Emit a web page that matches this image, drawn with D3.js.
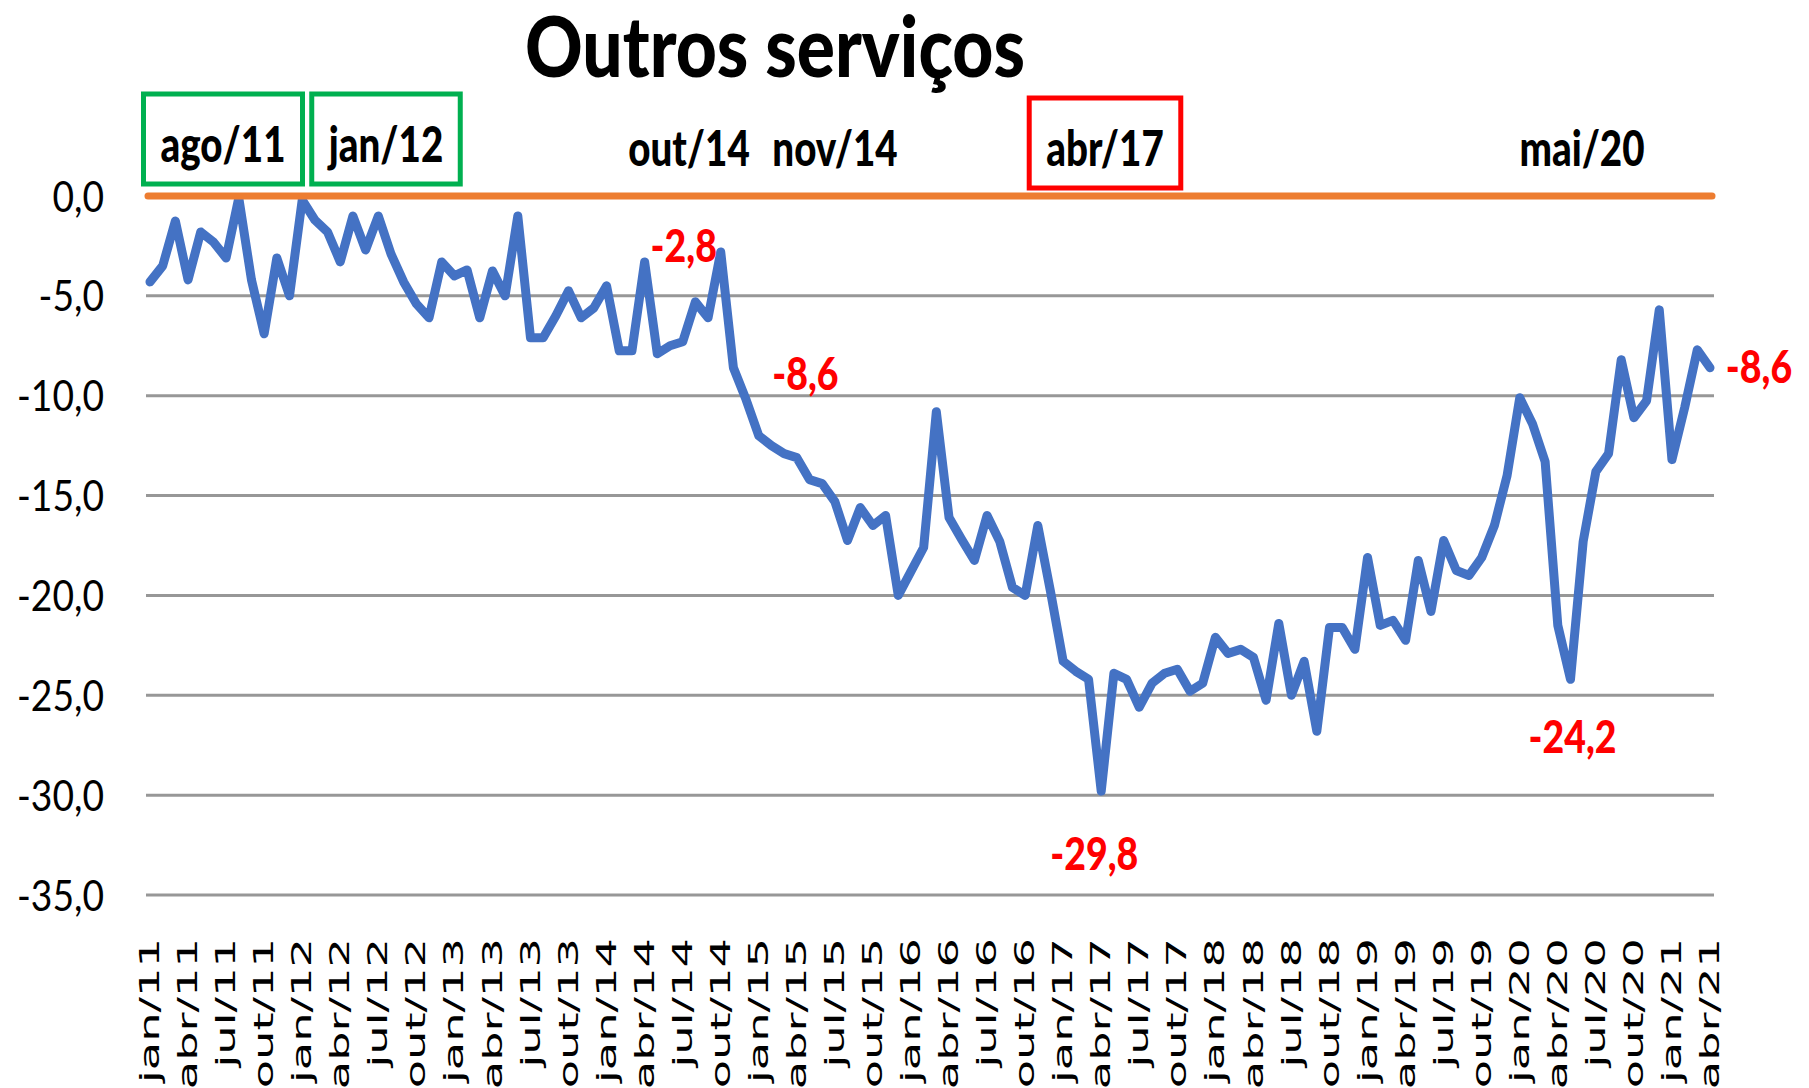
<!DOCTYPE html>
<html>
<head>
<meta charset="utf-8">
<script src="https://cdn.jsdelivr.net/npm/d3@7"></script>
<style>
  body { margin: 0; background: #fff; }
  svg { display: block; }
</style>
</head>
<body>
<div id="chart"></div>
<script>
// categories: one point per month, jan/11 .. abr/21
var monthNames = ['jan', 'fev', 'mar', 'abr', 'mai', 'jun', 'jul', 'ago', 'set', 'out', 'nov', 'dez'];
var years = [11, 12, 13, 14, 15, 16, 17, 18, 19, 20, 21];
var months = [];
years.forEach(function(yr) {
  monthNames.forEach(function(m) { months.push(m + '/' + yr); });
});
months = months.slice(0, months.indexOf('abr/21') + 1);

// series values
var values = [
  -4.3, -3.5, -1.25, -4.2, -1.8, -2.3, -3.1, -0.1, -4.2, -6.9, -3.1, -5.0,      // 2011
  -0.2, -1.2, -1.8, -3.3, -1.0, -2.7, -1.0, -2.9, -4.3, -5.4, -6.1, -3.3,       // 2012
  -4.0, -3.7, -6.1, -3.75, -5.0, -1.0, -7.1, -7.1, -6.0, -4.75, -6.1, -5.6,     // 2013
  -4.5, -7.75, -7.75, -3.3, -7.9, -7.5, -7.3, -5.3, -6.1, -2.8, -8.6, -10.2,    // 2014
  -12.0, -12.5, -12.9, -13.1, -14.2, -14.4, -15.3, -17.25, -15.6, -16.5, -16.0, -20.0, // 2015
  -18.8, -17.6, -10.8, -16.1, -17.2, -18.25, -16.0, -17.3, -19.6, -20.0, -16.5, -19.8, // 2016
  -23.3, -23.8, -24.2, -29.8, -23.9, -24.2, -25.6, -24.4, -23.9, -23.7, -24.8, -24.4,  // 2017
  -22.1, -22.9, -22.7, -23.1, -25.25, -21.4, -25.0, -23.3, -26.8, -21.6, -21.6, -22.7, // 2018
  -18.1, -21.5, -21.25, -22.25, -18.25, -20.8, -17.25, -18.75, -19.0, -18.1, -16.5, -14.0, // 2019
  -10.1, -11.4, -13.3, -21.5, -24.2, -17.3, -13.8, -12.9, -8.2, -11.1, -10.25, -5.7,   // 2020
  -13.2, -10.6, -7.7, -8.6                                                             // 2021
];

var yTicks = [0, -5, -10, -15, -20, -25, -30, -35];
var tickMonths = months.filter(function(m, i) { return i % 3 === 0; });

var topLabels = ['ago/11', 'jan/12', 'out/14', 'nov/14', 'abr/17', 'mai/20'];
var topBoxColors = ['#00B050', '#00B050', null, null, '#FF0000', null];
var calloutMonths = ['out/14', 'nov/14', 'abr/17', 'mai/20', 'abr/21'];

// ---- layout ----
var W = 1809, H = 1088;
var x0 = 150, x1 = 1710, yTop = 196, yBot = 895;
var topLabelPos = [[223, 162], [386, 162], [689, 166], [835, 166], [1105, 166], [1582, 166]];
var calloutOffsets = [[-37, 10], [72, 22], [-7, 79], [2, 74], [49, 15]];
var boldFont = 'Lato, "Open Sans", sans-serif';

var pt = d3.formatLocale({ decimal: ',', thousands: '.', grouping: [3], currency: ['R$', ''], minus: '-' });
var fmt = pt.format('.1f');

var svg = d3.select('#chart')
  .append('svg')
  .attr('width', W)
  .attr('height', H)
  .style('background', '#fff');

var x = d3.scalePoint().domain(months).range([x0, x1]);
var y = d3.scaleLinear().domain([-35, 0]).range([yBot, yTop]);

// squeeze text horizontally so it looks like the tall reference lettering
function fitTo(sel, refText, target) {
  var k = 1;
  sel.each(function() {
    if (this.textContent === refText) k = target / this.getComputedTextLength();
  });
  sel.each(function() {
    d3.select(this)
      .attr('textLength', this.getComputedTextLength() * k)
      .attr('lengthAdjust', 'spacingAndGlyphs');
  });
}

// gridlines
svg.append('g')
  .selectAll('line')
  .data(yTicks.filter(function(v) { return v < 0; }))
  .enter()
  .append('line')
  .attr('x1', x0 - 4)
  .attr('x2', x1 + 4)
  .attr('y1', function(d) { return y(d); })
  .attr('y2', function(d) { return y(d); })
  .attr('stroke', '#979797')
  .attr('stroke-width', 3);

// y axis labels
var yAxis = d3.axisLeft(y).tickValues(yTicks).tickFormat(fmt).tickSize(0).tickPadding(42);
var yg = svg.append('g')
  .attr('transform', 'translate(' + (x0 - 4) + ',0)')
  .call(yAxis);
yg.select('.domain').remove();
yg.selectAll('text')
  .attr('dy', null)
  .attr('y', 15)
  .style('font-family', 'Lato, "Open Sans", sans-serif')
  .style('font-size', '42px')
  .style('fill', '#000');
fitTo(yg.selectAll('text'), '-35,0', 87);

// x axis labels, rotated
var xAxis = d3.axisBottom(x).tickValues(tickMonths).tickSize(0);
var xg = svg.append('g')
  .attr('transform', 'translate(0,' + yBot + ')')
  .call(xAxis);
xg.select('.domain').remove();
xg.selectAll('text')
  .attr('transform', 'rotate(-90)')
  .attr('x', -43)
  .attr('y', 0)
  .attr('dy', '0.33em')
  .style('text-anchor', 'end')
  .style('font-family', '"DejaVu Sans", sans-serif')
  .style('font-size', '26px')
  .style('fill', '#000');
fitTo(xg.selectAll('text'), 'jan/11', 145);

// series line
var line = d3.line()
  .x(function(d, i) { return x(months[i]); })
  .y(function(d) { return y(d); });

svg.append('path')
  .datum(values)
  .attr('d', line)
  .attr('fill', 'none')
  .attr('stroke', '#4472C4')
  .attr('stroke-width', 9)
  .attr('stroke-linejoin', 'round')
  .attr('stroke-linecap', 'round');

// zero line
svg.append('line')
  .attr('x1', x0 - 2)
  .attr('x2', x1 + 2)
  .attr('y1', y(0))
  .attr('y2', y(0))
  .attr('stroke', '#ED7D31')
  .attr('stroke-width', 7)
  .attr('stroke-linecap', 'round');

// title
var title = svg.append('text')
  .attr('x', 775)
  .attr('y', 77)
  .attr('text-anchor', 'middle')
  .style('font-family', boldFont)
  .style('font-weight', 900)
  .style('font-size', '84px')
  .text('Outros serviços');
fitTo(title, 'Outros serviços', 500);

// month labels above the chart
var tl = svg.append('g')
  .selectAll('text')
  .data(topLabels)
  .enter()
  .append('text')
  .attr('x', function(d, i) { return topLabelPos[i][0]; })
  .attr('y', function(d, i) { return topLabelPos[i][1]; })
  .attr('text-anchor', 'middle')
  .style('font-family', boldFont)
  .style('font-weight', 900)
  .style('font-size', '49px')
  .text(function(d) { return d; });
fitTo(tl, 'ago/11', 125);

tl.each(function(d, i) {
  if (!topBoxColors[i]) return;
  var w = +this.getAttribute('textLength');
  var cx = topLabelPos[i][0], by = topLabelPos[i][1];
  svg.append('rect')
    .attr('x', cx - w / 2 - 17)
    .attr('y', by - 68)
    .attr('width', w + 34)
    .attr('height', 90)
    .attr('fill', 'none')
    .attr('stroke', topBoxColors[i])
    .attr('stroke-width', 5);
});

// red value callouts
var co = svg.append('g')
  .selectAll('text')
  .data(calloutMonths)
  .enter()
  .append('text')
  .attr('x', function(m, i) { return x(m) + calloutOffsets[i][0]; })
  .attr('y', function(m, i) { return y(values[months.indexOf(m)]) + calloutOffsets[i][1]; })
  .attr('text-anchor', 'middle')
  .style('font-family', boldFont)
  .style('font-weight', 900)
  .style('font-size', '45px')
  .style('fill', '#FF0000')
  .text(function(m) { return fmt(values[months.indexOf(m)]); });
fitTo(co, '-29,8', 88);
</script>
</body>
</html>
